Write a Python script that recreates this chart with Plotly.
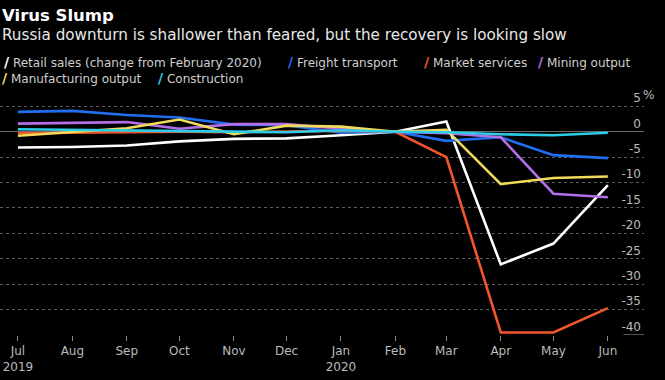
import plotly.graph_objects as go

# ---- data (percent change from February 2020) ----
months = ["2019-07-01", "2019-08-01", "2019-09-01", "2019-10-01", "2019-11-01", "2019-12-01",
          "2020-01-01", "2020-02-01", "2020-03-01", "2020-04-01", "2020-05-01", "2020-06-01"]
month_labels = ["Jul<br>2019", "Aug", "Sep", "Oct", "Nov", "Dec",
                "Jan<br>2020", "Feb", "Mar", "Apr", "May", "Jun"]

retail = [-3.1, -3.0, -2.7, -1.9, -1.4, -1.3, -0.7, 0.0, 2.0, -26.1, -22.0, -10.5]
freight = [3.9, 4.1, 3.3, 2.8, 1.4, 1.3, -0.2, 0.0, -1.8, -1.1, -4.6, -5.2]
market = [-0.3, -0.2, -0.1, 0.0, -0.1, 0.1, 0.2, 0.0, -5.0, -39.5, -39.5, -34.7]
mining = [1.6, 1.8, 1.9, 0.6, 1.5, 1.5, 0.6, 0.0, -0.3, -1.1, -12.2, -12.9]
manufacturing = [-0.8, 0.0, 0.7, 2.4, -0.5, 1.2, 1.0, 0.0, 0.4, -10.3, -9.1, -8.8]
construction = [0.5, 0.4, 0.3, 0.1, 0.1, -0.1, 0.3, 0.0, -0.1, -0.5, -0.7, -0.2]

series_names = ["Retail sales (change from February 2020)", "Freight transport", "Market services",
                "Mining output", "Manufacturing output", "Construction"]
series_values = [retail, freight, market, mining, manufacturing, construction]
series_colors = ["#ffffff", "#1f6ff0", "#f2562b", "#b46ee8", "#f0dc5a", "#2ccde6"]

y_ticks = [5, 0, -5, -10, -15, -20, -25, -30, -35, -40]
y_tick_labels = ["5", "0", "-5", "-10", "-15", "-20", "-25", "-30", "-35", "-40"]

title = "Virus Slump"
subtitle = "Russia downturn is shallower than feared, but the recovery is looking slow"

FONT = "DejaVu Sans"
W, H = 665, 380
M_L, M_R, M_T, M_B = 0, 21, 86, 45
PLOT_W = W - M_L - M_R
PLOT_H = H - M_T - M_B


def px_x(px):
    return (px - M_L) / PLOT_W


def px_y(py):
    return (H - M_B - py) / PLOT_H


fig = go.Figure()
for name, vals, col in zip(series_names, series_values, series_colors):
    fig.add_trace(go.Scatter(x=months, y=vals, name=name, mode="lines",
                             line=dict(color=col, width=2.6), showlegend=False))

# legend drawn as text rows (slash marker + label)
legend_pos = [(2, 62), (286, 62), (422, 62), (536, 62), (0, 78), (156, 78)]
for (px, py), name, col in zip(legend_pos, series_names, series_colors):
    fig.add_annotation(
        xref="paper", yref="paper", x=px_x(px), y=px_y(py),
        xanchor="left", yanchor="middle", showarrow=False,
        text=f'<b><span style="color:{col};font-size:14px">/</span></b> {name}',
        font=dict(family=FONT, size=12, color="#cfcfcf"))

fig.add_annotation(xref="paper", yref="paper", x=px_x(0), y=px_y(15),
                   xanchor="left", yanchor="middle", showarrow=False,
                   text=f"<b>{title}</b>", font=dict(family=FONT, size=16.5, color="#ffffff"))
fig.add_annotation(xref="paper", yref="paper", x=px_x(0), y=px_y(35),
                   xanchor="left", yanchor="middle", showarrow=False,
                   text=subtitle, font=dict(family=FONT, size=15.2, color="#e8e8e8"))

# percent sign hanging after the top label
fig.add_annotation(xref="paper", yref="y", x=1, y=5, xanchor="left", yanchor="bottom",
                   showarrow=False, text="%", xshift=-3, yshift=2,
                   font=dict(family=FONT, size=12, color="#bbbbbb"))
# short solid baseline under the -40 label
fig.add_shape(type="line", xref="paper", yref="y", x0=0.968, x1=1.0, y0=-40, y1=-40,
              line=dict(color="#aaaaaa", width=1))

fig.update_layout(
    width=W, height=H,
    paper_bgcolor="#000000", plot_bgcolor="#000000",
    margin=dict(l=M_L, r=M_R, t=M_T, b=M_B, autoexpand=False),
    font=dict(family=FONT, size=12, color="#bbbbbb"),
    xaxis=dict(type="date", range=["2019-06-20 19:00", "2020-06-21 14:00"], automargin=False,
               tickvals=months, ticktext=month_labels, ticks="outside", ticklen=5,
               tickcolor="#888888", showgrid=False, zeroline=False, showline=False,
               tickfont=dict(family=FONT, size=12, color="#bbbbbb")),
    yaxis=dict(side="right", range=[-40, 9], tickvals=y_ticks, ticktext=y_tick_labels,
               ticklabelposition="inside top", ticks="", automargin=False,
               showgrid=True, gridcolor="#5e5e5e", griddash="dot", gridwidth=1,
               zeroline=True, zerolinecolor="#6a6a6a", zerolinewidth=1, showline=False,
               tickfont=dict(family=FONT, size=12, color="#bbbbbb")),
)

fig.write_html("out.html", config={"displayModeBar": False},
               post_script="document.body.style.margin='0';document.body.style.background='#000';")
